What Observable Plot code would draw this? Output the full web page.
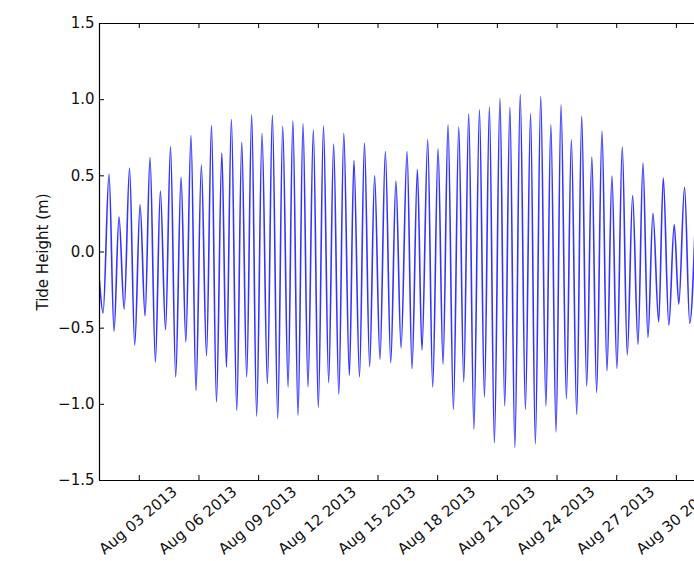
<!DOCTYPE html>
<html>
<head>
<meta charset="utf-8">
<script src="https://cdn.jsdelivr.net/npm/d3@7"></script>
<script src="https://cdn.jsdelivr.net/npm/@observablehq/plot@0.6"></script>
<style>
  html, body { margin: 0; padding: 0; background: #fff; overflow: hidden; }
  #chart { width: 694px; height: 561px; }
</style>
</head>
<body>
<div id="chart"></div>
<script>
// Days since 2013-08-01 00:00 UTC
const startDay = 0;
const startHeight = -0.19;

const highDays = [0.48, 0.98, 1.51, 2.04, 2.54, 3.06, 3.57, 4.10, 4.60, 5.12, 5.63, 6.15, 6.63, 7.15, 7.65, 8.17, 8.69, 9.21, 9.72, 10.23, 10.75, 11.26, 11.77, 12.28, 12.79, 13.32, 13.83, 14.37, 14.90, 15.46, 15.98, 16.50, 17.02, 17.52, 18.06, 18.56, 19.10, 19.60, 20.13, 20.63, 21.15, 21.67, 22.18, 22.69, 23.20, 23.72, 24.24, 24.75, 25.26, 25.76, 26.28, 26.80, 27.32, 27.82, 28.34, 28.89, 29.41, 29.96];
const highHeights = [0.51, 0.23, 0.55, 0.31, 0.62, 0.40, 0.69, 0.49, 0.765, 0.57, 0.83, 0.65, 0.87, 0.72, 0.90, 0.78, 0.897, 0.825, 0.862, 0.842, 0.80, 0.827, 0.708, 0.78, 0.60, 0.715, 0.50, 0.66, 0.465, 0.66, 0.54, 0.737, 0.678, 0.835, 0.82, 0.908, 0.934, 0.952, 1.007, 0.95, 1.035, 0.908, 1.022, 0.835, 0.967, 0.737, 0.89, 0.623, 0.794, 0.498, 0.689, 0.37, 0.583, 0.254, 0.485, 0.18, 0.425, 0.24];

const lowDays = [0.18, 0.73, 1.24, 1.77, 2.29, 2.81, 3.32, 3.83, 4.34, 4.85, 5.38, 5.88, 6.38, 6.90, 7.40, 7.90, 8.44, 8.96, 9.48, 9.98, 10.48, 11.0, 11.52, 12.03, 12.56, 13.07, 13.58, 14.10, 14.64, 15.16, 15.71, 16.21, 16.75, 17.27, 17.79, 18.31, 18.82, 19.35, 19.85, 20.37, 20.88, 21.41, 21.91, 22.44, 22.95, 23.47, 23.99, 24.49, 24.99, 25.51, 26.01, 26.53, 27.07, 27.57, 28.11, 28.62, 29.12, 29.67];
const lowHeights = [-0.40, -0.52, -0.375, -0.61, -0.42, -0.72, -0.51, -0.82, -0.59, -0.91, -0.68, -0.985, -0.755, -1.04, -0.82, -1.077, -0.864, -1.094, -0.886, -1.072, -0.886, -1.02, -0.857, -0.934, -0.81, -0.82, -0.752, -0.704, -0.726, -0.63, -0.765, -0.643, -0.886, -0.737, -1.033, -0.853, -1.164, -0.952, -1.252, -1.011, -1.285, -1.033, -1.259, -1.011, -1.182, -0.963, -1.066, -0.879, -0.923, -0.78, -0.763, -0.675, -0.605, -0.561, -0.458, -0.48, -0.342, -0.467];

const xTickLabels = ["2013-08-03", "2013-08-06", "2013-08-09", "2013-08-12", "2013-08-15", "2013-08-18", "2013-08-21", "2013-08-24", "2013-08-27", "2013-08-30"];
const yTicks = [-1.5, -1.0, -0.5, 0.0, 0.5, 1.0, 1.5];
const yLabel = "Tide Height (m)";

const base = Date.UTC(2013, 7, 1);
const toDate = d => new Date(base + d * 864e5);

const series = [{t: toDate(startDay), h: startHeight}]
  .concat(highDays.map((d, i) => ({t: toDate(d), h: highHeights[i]})))
  .concat(lowDays.map((d, i) => ({t: toDate(d), h: lowHeights[i]})))
  .sort((a, b) => a.t - b.t);

const xStart = toDate(0);
const xEnd = toDate(29.91);
const xTicks = xTickLabels.map(s => new Date(s + "T00:00:00Z"));
const fmtX = d3.utcFormat("%b %d %Y");
const fmtY = d => d3.format(".1f")(d).replace("-", "\u2212");

const font = "DejaVu Sans, sans-serif";

const chart = Plot.plot({
  width: 694,
  height: 561,
  marginLeft: 99,
  marginRight: 0,
  marginTop: 23,
  marginBottom: 81,
  style: {fontFamily: font, fontSize: "15px", color: "#000", background: "#fff"},
  x: {type: "utc", domain: [xStart, xEnd], axis: null},
  y: {domain: [-1.5, 1.5], axis: null},
  marks: [
    Plot.line(series, {x: "t", y: "h", curve: "monotone-x", stroke: "#1010ff", strokeWidth: 1.6, strokeOpacity: 0.85, clip: true}),
    // frame: left, top, bottom
    Plot.ruleX([xStart], {stroke: "#000", strokeWidth: 1.2}),
    Plot.ruleY([-1.5, 1.5], {stroke: "#000", strokeWidth: 1.2}),
    // inward ticks
    Plot.ruleX(xTicks, {x: d => d, y1: -1.5, y2: -1.5, insetBottom: 5, stroke: "#000"}),
    Plot.ruleX(xTicks, {x: d => d, y1: 1.5, y2: 1.5, insetTop: 5, stroke: "#000"}),
    Plot.ruleY(yTicks, {y: d => d, x1: xStart, x2: xStart, insetLeft: 5, stroke: "#000"}),
    // tick labels
    Plot.text(yTicks, {x: xStart, y: d => d, text: fmtY, textAnchor: "end", dx: -5, fontSize: 15, fill: "#111"}),
    Plot.text(xTicks, {x: d => d, y: -1.5, text: fmtX, rotate: -40, textAnchor: "middle", lineAnchor: "middle", dx: -1, dy: 40, fontSize: 15, fill: "#111"}),
    Plot.text([yLabel], {x: xStart, y: 0, text: d => d, rotate: -90, dx: -56, fontSize: 15, fill: "#111", textAnchor: "middle", lineAnchor: "middle"})
  ]
});

document.getElementById("chart").appendChild(chart);
</script>
</body>
</html>
